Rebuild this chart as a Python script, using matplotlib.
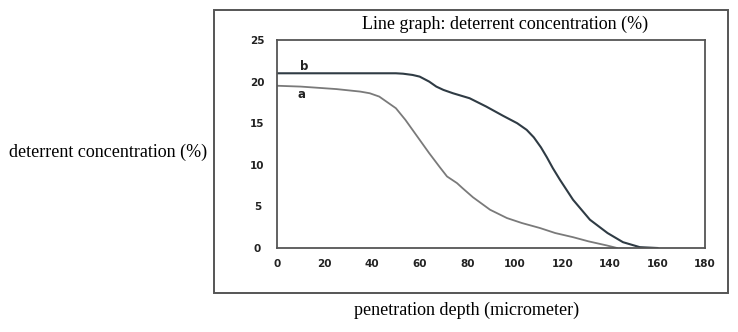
import numpy as np
import matplotlib.pyplot as plt
from matplotlib.patches import Rectangle

# depth (micrometer) and deterrent concentration (%)
depth_a = [0, 10, 25, 35, 39, 43, 47, 50, 54, 57, 60, 64, 68.5, 71.5, 75.7, 78, 82.4, 89.6, 96.7, 103, 110.6, 117, 124.5, 131, 138.8, 143]
conc_a = [19.5, 19.4, 19.1, 18.8, 18.6, 18.2, 17.4, 16.8, 15.4, 14.2, 13.0, 11.4, 9.7, 8.6, 7.8, 7.2, 6.1, 4.6, 3.6, 3.0, 2.4, 1.8, 1.3, 0.8, 0.3, 0.0]

depth_b = [0, 20, 40, 50, 53, 57, 60, 64, 67, 70, 74, 81, 88, 95, 101, 105, 108, 111, 113.5, 116, 119, 124.5, 131.6, 139, 145.5, 152.6, 160]
conc_b = [21.0, 21.0, 21.0, 21.0, 20.95, 20.8, 20.6, 20.0, 19.4, 19.0, 18.6, 18.0, 17.0, 15.9, 15.0, 14.2, 13.3, 12.1, 10.9, 9.6, 8.2, 5.8, 3.4, 1.8, 0.7, 0.1, 0.0]

x_ticks = [0, 20, 40, 60, 80, 100, 120, 140, 160, 180]
y_ticks = [0, 5, 10, 15, 20, 25]

fig = plt.figure(figsize=(7.38, 3.32), dpi=100)
W, H = 738, 332

# outer frame
fig.patches.append(Rectangle((214 / W, 1 - 293 / H), (728 - 214) / W, (293 - 10) / H,
                             transform=fig.transFigure, fill=False,
                             edgecolor='#555555', linewidth=1.4))

ax = fig.add_axes([277 / W, 1 - 248 / H, (705 - 277) / W, (248 - 40) / H])
ax.plot(depth_a, conc_a, color='#7a7a7a', linewidth=1.3)
ax.plot(depth_b, conc_b, color='#2f3b44', linewidth=1.5)
ax.text(11.5, 21.8, 'b', fontsize=8.5, fontweight='bold', ha='center', va='center', color='#222222')
ax.text(10.5, 18.4, 'a', fontsize=8.5, fontweight='bold', ha='center', va='center', color='#222222')

ax.set_xlim(0, 180)
ax.set_ylim(0, 25)
ax.set_xticks(x_ticks)
ax.set_yticks(y_ticks)
ax.tick_params(axis='both', length=0, labelsize=7.5, labelcolor='#222222')
ax.tick_params(axis='y', pad=14)
ax.tick_params(axis='x', pad=8)
for lab in ax.get_xticklabels() + ax.get_yticklabels():
    lab.set_fontweight('bold')
for lab in ax.get_yticklabels():
    lab.set_horizontalalignment('center')
for s in ax.spines.values():
    s.set_color('#555555')
    s.set_linewidth(1.3)

fig.text(505 / W, 1 - 24 / H, 'Line graph: deterrent concentration (%)',
         family='Liberation Serif', fontsize=13, ha='center', va='center')
fig.text(108 / W, 1 - 152 / H, 'deterrent concentration (%)',
         family='Liberation Serif', fontsize=13, ha='center', va='center')
fig.text(467 / W, 1 - 310 / H, 'penetration depth (micrometer)',
         family='Liberation Serif', fontsize=13, ha='center', va='center')

fig.savefig('out.png', dpi=100)
